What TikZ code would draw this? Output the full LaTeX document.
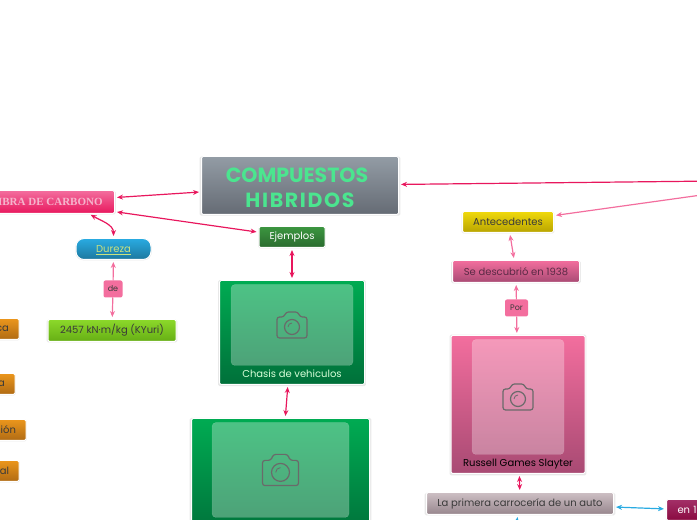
\documentclass[tikz,border=0pt]{standalone}
\usepackage{fontspec}
\setmainfont{Poppins}
\newfontfamily\fibrafont{Liberation Serif}
\usetikzlibrary{arrows.meta,positioning,shadows}
\definecolor{fuerte}{HTML}{E8175D}
\definecolor{rosa}{HTML}{F36E9E}
\definecolor{celeste}{HTML}{29ABE2}
\definecolor{menta}{HTML}{4BE58F}
\definecolor{gris}{HTML}{6A6A6A}
\definecolor{oscuro}{HTML}{3A3A3A}
\definecolor{vinoso}{HTML}{5A2A45}
\definecolor{plomoA}{HTML}{939CA5}
\definecolor{plomoB}{HTML}{656B74}
\definecolor{bosqueA}{HTML}{3C9640}
\definecolor{bosqueB}{HTML}{2A6B2E}
\definecolor{verdeA}{HTML}{00AB52}
\definecolor{verdeB}{HTML}{00703A}
\definecolor{limaA}{HTML}{8CD92B}
\definecolor{limaB}{HTML}{66AE14}
\definecolor{limaC}{HTML}{C9E27F}
\definecolor{ocreA}{HTML}{EB961C}
\definecolor{ocreB}{HTML}{B06B14}
\definecolor{oroA}{HTML}{F0D90C}
\definecolor{oroB}{HTML}{B8A400}
\definecolor{malvaA}{HTML}{CDBFC4}
\definecolor{malvaB}{HTML}{97868D}
\definecolor{vinoA}{HTML}{A33068}
\definecolor{vinoB}{HTML}{8A0A40}
\definecolor{rosaB}{HTML}{A84A73}
\definecolor{rosaC}{HTML}{F5B5CC}
\tikzset{
  camara/.pic={
    \draw[gris, line width=1.2pt, rounded corners=2.5pt] (-15,-13) -- (-15,8) -- (-8,8) -- (-6,13) -- (6,13) -- (8,8) -- (15,8) -- (15,-13) -- cycle;
    \draw[gris, line width=1.2pt] (0,-2) circle (7.5);
    \draw[gris, line width=0.8pt] (-4,-2) arc (180:90:4);
  }
}
\begin{document}
\begin{tikzpicture}[
  x=1pt, y=1pt,
  every node/.style={font=\fontsize{10}{12}\selectfont, outer sep=0pt, inner sep=0pt, align=center},
  caja/.style={rectangle, draw=white, line width=1pt, rounded corners=1.5pt,
               drop shadow={opacity=0.18, shadow xshift=0pt, shadow yshift=-0.6pt, shadow scale=1.02},
               text=oscuro},
  naranja/.style={caja, top color=ocreA, bottom color=ocreB,
                  minimum height=21pt, text width=40pt, inner xsep=10pt, align=right},
  foto/.style={rectangle, fill=white, fill opacity=0.3, draw=white, draw opacity=0.2,
               rounded corners=4pt},
  etiqueta/.style={rectangle, fill=rosa, rounded corners=2pt, font=\fontsize{8}{10}\selectfont,
                   text=oscuro, minimum width=19pt, minimum height=17pt},
  doble/.style={{Stealth[length=6pt, width=5pt]}-{Stealth[length=6pt, width=5pt]}, line width=1.2pt,
                shorten <=2.5pt, shorten >=2.5pt},
  simple/.style={-{Stealth[length=6pt, width=5pt]}, line width=1.2pt, shorten >=2.5pt},
]
\useasboundingbox (0,0) rectangle (697,520);
\node[caja, top color=plomoA, bottom color=plomoB, minimum width=197pt, minimum height=58pt,
      text=menta, font=\fontsize{20.5}{25.5}\selectfont\bfseries] (titulo) at (300,334.5)
  {\rule{0pt}{19pt}COMPUESTOS\hspace*{6pt}\\{\addfontfeature{LetterSpace=8}HIBRIDOS}};
\coordinate (central) at (809,340);
\coordinate (abajo) at (510,-40);

\node[caja, top color=rosa, bottom color=fuerte, minimum width=135pt, minimum height=23pt,
      left=87pt of titulo, yshift=-16.5pt, text=rosaC,
      font=\fibrafont\fontsize{11}{13}\selectfont\bfseries] (fibra) {FIBRA DE CARBONO};
\node[caja, top color=celeste, bottom color=celeste!70!black, minimum width=75pt, minimum height=21pt,
      rounded corners=8pt, below=25pt of fibra, xshift=66.5pt, text=limaC] (dureza)
  {\rule{0pt}{9pt}\underline{Dureza}};
\node[etiqueta, below=21pt of dureza, xshift=-0.5pt] (de) {de};
\node[caja, top color=limaA, bottom color=limaB, minimum width=128pt,
      minimum height=22pt, below=60pt of dureza, xshift=-1.5pt] (verde) {2457 kN·m/kg (KYuri)};

\node[naranja, left=29pt of verde, yshift=1.5pt] (meca) {ca};
\node[naranja, below=34pt of meca, xshift=-4pt] (mata) {a};
\node[naranja, below=25pt of mata, xshift=11pt] (acion) {ión};
\node[naranja, below=20pt of acion, xshift=-7pt] (matal) {al};

\node[caja, top color=bosqueA, bottom color=bosqueB, minimum width=66pt, minimum height=21pt,
      below=12pt of titulo, xshift=-8pt, text=white] (ejemplos) {Ejemplos};
\node[caja, top color=verdeA, bottom color=verdeB, minimum width=145pt,
      minimum height=104pt, below=33pt of ejemplos] (chasis) {};
\node[foto, minimum width=122pt, minimum height=81pt, below=4pt of chasis.north] (fotochasis) {};
\pic at (fotochasis) {camara};
\node[text=white!85!green, above=7pt of chasis.south] (textochasis) {Chasis de vehiculos};

\node[caja, top color=verdeA, bottom color=verdeB, minimum width=178pt,
      minimum height=121pt, below=34pt of chasis, xshift=-11.5pt] (otro) {};
\node[foto, minimum width=137pt, minimum height=95pt, below=4pt of otro.north] (fotootro) {};
\pic[scale=1.2] at (fotootro) {camara};

\node[caja, top color=oroA, bottom color=oroB, minimum width=91pt,
      minimum height=21pt, right=64pt of titulo, yshift=-36.5pt] (antecedentes) {Antecedentes};
\node[caja, top color=rosa, bottom color=rosaB, minimum width=127pt, minimum height=22pt,
      below=28pt of antecedentes, xshift=8pt, text=vinoso] (descubrio) {Se descubrió en 1938};
\node[etiqueta, minimum width=23pt, below=17pt of descubrio, xshift=0.5pt] (por) {Por};
\node[caja, top color=rosa, bottom color=rosaB, minimum width=134pt, minimum height=138pt,
      below=19pt of por, xshift=1.5pt] (russell) {};
\node[foto, minimum width=92pt, minimum height=115pt, below=4pt of russell.north] (fotorussell) {};
\pic at (fotorussell) {camara};
\node[above=4pt of russell.south] (textorussell) {Russell Games Slayter};
\node[caja, top color=malvaA, bottom color=malvaB, minimum width=187pt, minimum height=22pt,
      below=19pt of russell, xshift=2pt] (primera) {La primera carrocería de un auto};
\node[caja, top color=vinoA, bottom color=vinoB, minimum width=54pt, minimum height=21pt,
      right=53pt of primera, yshift=-6.5pt, text width=33pt, inner xsep=11pt, align=left, text=white] (anio) {en 1};

\draw[doble, fuerte] (fibra) -- (titulo);
\draw[doble, fuerte] (fibra) -- (ejemplos);
\draw[doble, fuerte] ([xshift=-26pt]fibra.south east) to[out=-30, in=90] (dureza.north);
\draw[simple, rosa] (de) -- (dureza);
\draw[simple, rosa] (de) -- (verde);
\draw[doble, fuerte] (ejemplos) -- (chasis);
\draw[doble, fuerte] (chasis) -- (otro);
\draw[simple, fuerte] (central) -- (titulo);
\draw[simple, rosa] (central) -- (antecedentes);
\draw[doble, rosa] (antecedentes) -- (descubrio);
\draw[simple, rosa] (por) -- (descubrio);
\draw[simple, rosa] (por) -- (russell);
\draw[doble, fuerte] (russell) -- (primera);
\draw[doble, celeste] (primera) -- (anio);
\draw[simple, celeste] (abajo) -- (primera);
\end{tikzpicture}
\end{document}
